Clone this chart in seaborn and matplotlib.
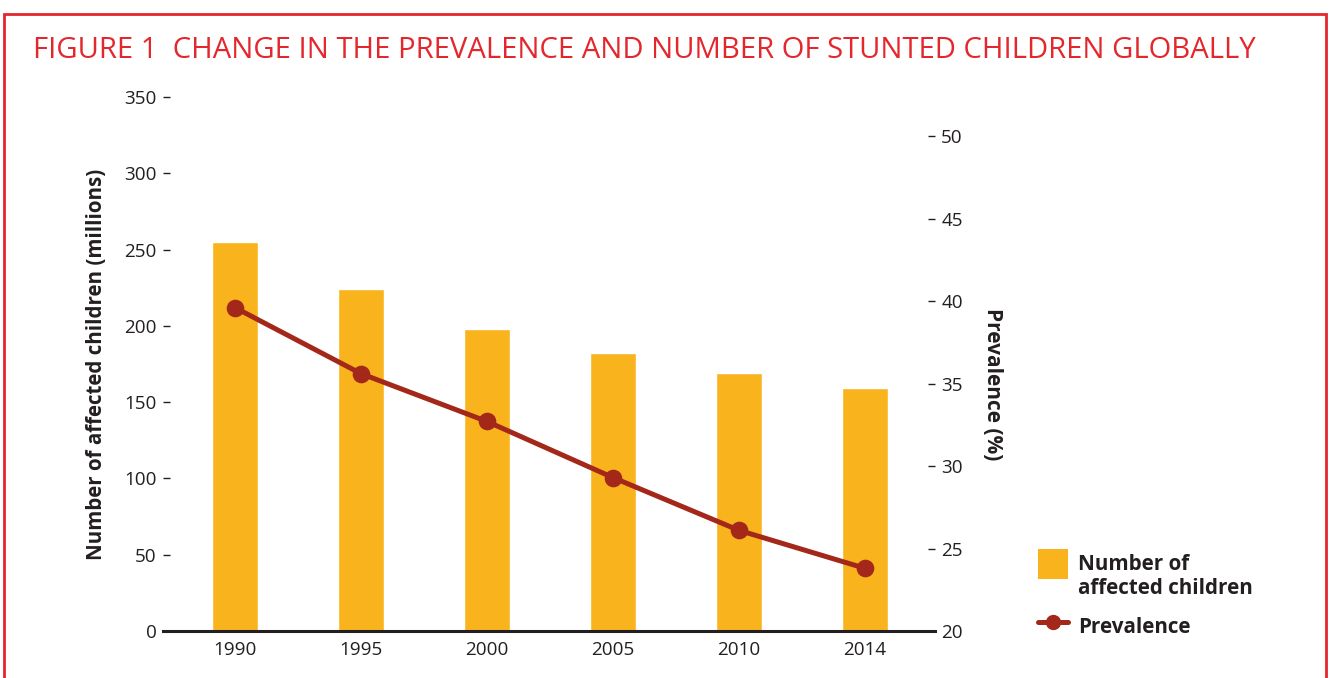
import matplotlib
matplotlib.use("Agg")
import matplotlib.pyplot as plt
import seaborn as sns
import pandas as pd
from matplotlib.patches import Patch, Rectangle
from matplotlib.lines import Line2D
from matplotlib.legend_handler import HandlerPatch

# ---- data ----
years = ["1990", "1995", "2000", "2005", "2010", "2014"]
children_millions = [255, 224, 198, 182, 169, 159]
prevalence_pct = [39.6, 35.6, 32.7, 29.3, 26.1, 23.8]
left_ticks = [0, 50, 100, 150, 200, 250, 300, 350]
right_ticks = [20, 25, 30, 35, 40, 45, 50]

title = "FIGURE 1  CHANGE IN THE PREVALENCE AND NUMBER OF STUNTED CHILDREN GLOBALLY"
left_label = "Number of affected children (millions)"
right_label = "Prevalence (%)"
legend_labels = ["Number of\naffected children", "Prevalence"]

BAR = "#F9B41D"
LINE = "#A3281A"
RED = "#E4262D"
DARK = "#231F20"

sns.set_theme(style="white")
plt.rcParams['font.family'] = ['Open Sans', 'DejaVu Sans']

W, H = 1329, 678
fig = plt.figure(figsize=(W / 100, H / 100), dpi=100)
fig.patch.set_facecolor("white")

ax_l, ax_r, ax_b, ax_t = 163, 935, 631, 97
ax = fig.add_axes([ax_l / W, 1 - ax_b / H, (ax_r - ax_l) / W, (ax_b - ax_t) / H])

df = pd.DataFrame({"year": years, "children": children_millions, "prev": prevalence_pct})
sns.barplot(data=df, x="year", y="children", color=BAR, saturation=1, width=0.365, ax=ax)

ax2 = ax.twinx()
sns.pointplot(data=df, x="year", y="prev", color=LINE, ax=ax2, markers="o",
              markersize=10, linewidth=3.6)

xlim = (-0.571, 5.556)
ax.set_xlim(*xlim)
ax2.set_xlim(*xlim)
ax.set_ylim(0, 350)
ax2.set_ylim(20, 20 + 534 / 16.5)

ax.set_yticks(left_ticks)
ax.set_yticklabels([str(t) for t in left_ticks])
ax2.set_yticks(right_ticks)
ax2.set_yticklabels([str(t) for t in right_ticks])

for s in ["left", "right", "top"]:
    ax.spines[s].set_visible(False)
for s in ["left", "right", "top", "bottom"]:
    ax2.spines[s].set_visible(False)
ax.spines["bottom"].set_color(DARK)
ax.spines["bottom"].set_linewidth(2.2)

ax.tick_params(axis="y", left=True, direction="in", length=5, width=1, color=DARK,
               pad=4.5, labelsize=13.6, labelcolor=DARK)
ax.tick_params(axis="x", bottom=False, pad=1, labelsize=13.6, labelcolor=DARK)
ax2.tick_params(axis="y", right=True, direction="in", length=5, width=1, color=DARK,
                pad=4.5, labelsize=13.6, labelcolor=DARK)
ax.set_xlabel("")
ax.set_ylabel(left_label, fontsize=14.8, fontweight="bold", color=DARK)
ax.yaxis.set_label_coords((107 - ax_l) / (ax_r - ax_l), 0.5)
ax2.set_ylabel(right_label, fontsize=15, fontweight="bold", color=DARK, rotation=270, va="bottom")
ax2.yaxis.set_label_coords((982 - ax_l) / (ax_r - ax_l), 0.4625)
ax2.grid(False)
ax.grid(False)

fig.text(33 / W, 1 - 50 / H, title, color=RED, fontsize=21.1, va="center", ha="left")

fig.add_artist(Rectangle((3.5 / W, -0.2), (1326 - 3.5) / W, 0.2 + 1 - 14 / H,
                         transform=fig.transFigure, fill=False, ec=RED, lw=2, clip_on=False))


def raised_patch(legend, orig_handle, xdescent, ydescent, width, height, fontsize):
    return Rectangle((-xdescent, -ydescent + 10), width, height)


handles = [Patch(facecolor=BAR, edgecolor="none"),
           Line2D([0], [0], color=LINE, lw=3.6, marker="o", markersize=10)]
leg = fig.legend(handles, legend_labels, loc="upper left",
                 bbox_to_anchor=(1038 / W, 1 - 554 / H), frameon=False,
                 prop={"weight": "bold", "size": 14.9}, labelcolor=DARK,
                 handlelength=1.45, handleheight=1.853, handletextpad=0.48,
                 borderpad=0, borderaxespad=0, labelspacing=0.6,
                 handler_map={Patch: HandlerPatch(patch_func=raised_patch)})

fig.savefig("out.png", dpi=100, facecolor="white")
